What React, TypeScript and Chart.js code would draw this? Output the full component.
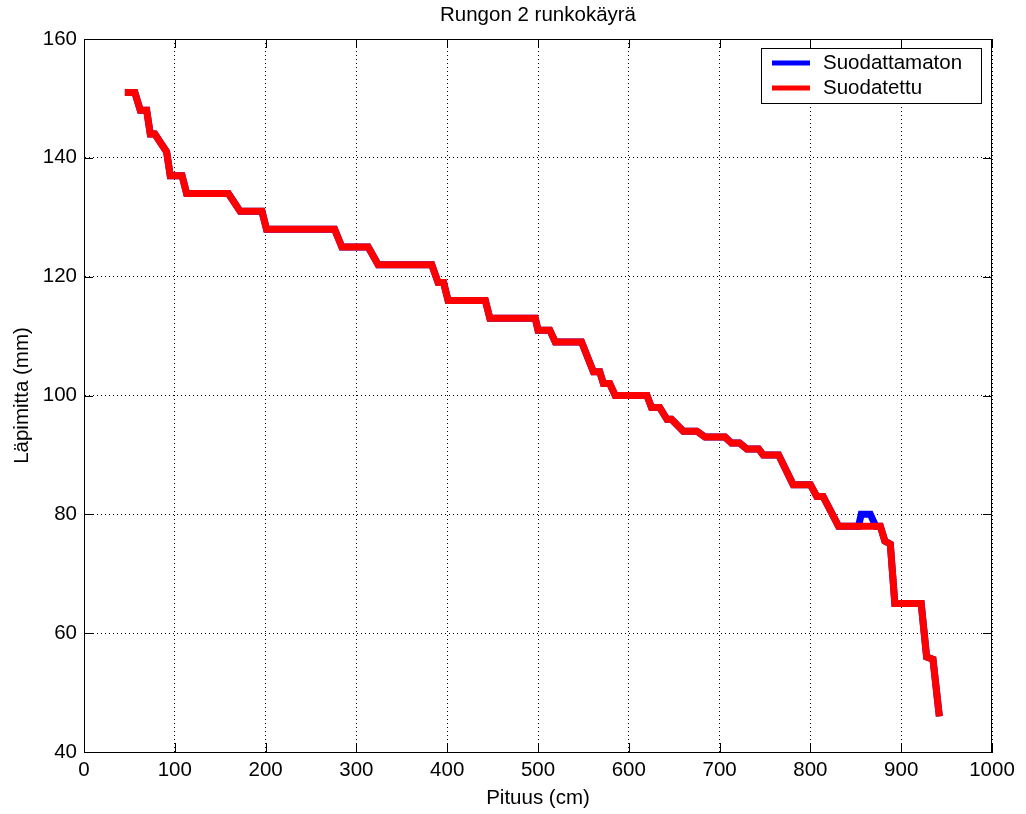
import React, { useEffect, useRef } from "react";
import { Chart, registerables } from "chart.js";

Chart.register(...registerables);

// ---- Data ----
const titleText = "Rungon 2 runkokäyrä";
const xAxisLabel = "Pituus (cm)";
const yAxisLabel = "Läpimitta (mm)";
const seriesNames = ["Suodattamaton", "Suodatettu"];
const seriesColors = ["#0000FF", "#FF0000"];

const xTicks = [0, 100, 200, 300, 400, 500, 600, 700, 800, 900, 1000];
const yTicks = [40, 60, 80, 100, 120, 140, 160];

// Filtered (Suodatettu) curve vertices: length (cm) / diameter (mm)
const filteredX = [
  45, 56, 62, 69, 73, 78, 91, 95, 108, 113, 159, 172, 196, 201, 276, 284, 313, 324, 383, 390,
  396, 401, 442, 447, 497, 500, 513, 519, 548, 561, 568, 572, 579, 585, 620, 625, 634, 642, 647,
  660, 675, 684, 706, 713, 722, 730, 743, 748, 765, 781, 800, 807, 814, 831, 877, 882, 888, 893,
  922, 928, 935, 942,
];
const filteredY = [
  151, 151, 148, 148, 144, 144, 141, 137, 137, 134, 134, 131, 131, 128, 128, 125, 125, 122, 122, 119,
  119, 116, 116, 113, 113, 111, 111, 109, 109, 104, 104, 102, 102, 100, 100, 98, 98, 96, 96,
  94, 94, 93, 93, 92, 92, 91, 91, 90, 90, 85, 85, 83, 83, 78, 78, 75.5, 75, 65,
  65, 56, 55.6, 46,
];

// Unfiltered (Suodattamaton) curve vertices
const unfilteredX = [
  45, 56, 62, 69, 73, 78, 91, 95, 108, 113, 159, 172, 196, 201, 276, 284, 313, 324, 383, 390,
  396, 401, 442, 447, 497, 500, 513, 519, 548, 561, 568, 572, 579, 585, 620, 625, 634, 642, 647,
  660, 675, 684, 706, 713, 722, 730, 743, 748, 765, 781, 800, 807, 814, 831, 853, 856, 866, 872,
  877, 882, 888, 893, 922, 928, 935, 942,
];
const unfilteredY = [
  151, 151, 148, 148, 144, 144, 141, 137, 137, 134, 134, 131, 131, 128, 128, 125, 125, 122, 122, 119,
  119, 116, 116, 113, 113, 111, 111, 109, 109, 104, 104, 102, 102, 100, 100, 98, 98, 96, 96,
  94, 94, 93, 93, 92, 92, 91, 91, 90, 90, 85, 85, 83, 83, 78, 78, 80, 80, 78,
  78, 75.5, 75, 65, 65, 56, 55.6, 46,
];

const FONT = '"Liberation Sans", Arial, Helvetica, sans-serif';
const FONT_SIZE = 20.5;

const toPoints = (xs: number[], ys: number[]) => xs.map((x, i) => ({ x, y: ys[i] }));

const decorPlugin = {
  id: "matlabDecor",
  beforeDatasetsDraw(chart: any) {
    const { ctx, chartArea: a, scales } = chart;
    ctx.save();
    ctx.strokeStyle = "#000";
    ctx.lineWidth = 1;
    // box
    ctx.strokeRect(Math.round(a.left) + 0.5, Math.round(a.top) + 0.5, Math.round(a.right - a.left) - 1, Math.round(a.bottom - a.top));
    // inward ticks
    const tl = 9;
    ctx.beginPath();
    xTicks.forEach((v) => {
      const px = Math.round(scales.x.getPixelForValue(v)) + 0.5;
      ctx.moveTo(px, a.bottom);
      ctx.lineTo(px, a.bottom - tl);
      ctx.moveTo(px, a.top);
      ctx.lineTo(px, a.top + tl);
    });
    yTicks.forEach((v) => {
      const py = Math.round(scales.y.getPixelForValue(v)) + 0.5;
      ctx.moveTo(a.left, py);
      ctx.lineTo(a.left + tl, py);
      ctx.moveTo(a.right, py);
      ctx.lineTo(a.right - tl, py);
    });
    ctx.stroke();
    ctx.restore();
  },
  afterDraw(chart: any) {
    const { ctx, chartArea: a } = chart;
    ctx.save();
    ctx.fillStyle = "#000";
    ctx.font = `${FONT_SIZE}px ${FONT}`;
    ctx.textAlign = "center";
    ctx.textBaseline = "middle";
    const cx = (a.left + a.right) / 2;
    ctx.fillText(titleText, cx, 15);
    ctx.fillText(xAxisLabel, cx, 798);
    ctx.save();
    ctx.translate(22, (a.top + a.bottom) / 2);
    ctx.rotate(-Math.PI / 2);
    ctx.fillText(yAxisLabel, 0, 0);
    ctx.restore();

    // legend
    const lx = 761, ly = 48, lw = 220, lh = 55;
    ctx.fillStyle = "#fff";
    ctx.fillRect(lx, ly, lw, lh);
    ctx.strokeStyle = "#000";
    ctx.lineWidth = 1;
    ctx.strokeRect(lx + 0.5, ly + 0.5, lw, lh);
    const rows = [63, 88];
    seriesNames.forEach((name, i) => {
      ctx.strokeStyle = seriesColors[i];
      ctx.lineWidth = 5;
      ctx.beginPath();
      ctx.moveTo(772, rows[i]);
      ctx.lineTo(810, rows[i]);
      ctx.stroke();
      ctx.fillStyle = "#000";
      ctx.textAlign = "left";
      ctx.fillText(name, 823, rows[i]);
    });
    ctx.restore();
  },
};

export default function App() {
  const canvasRef = useRef<HTMLCanvasElement | null>(null);

  useEffect(() => {
    if (!canvasRef.current) return;
    const chart = new Chart(canvasRef.current, {
      type: "scatter",
      data: {
        datasets: [
          {
            label: seriesNames[0],
            data: toPoints(unfilteredX, unfilteredY),
            showLine: true,
            borderColor: seriesColors[0],
            backgroundColor: seriesColors[0],
            borderWidth: 7,
            pointRadius: 0,
            borderJoinStyle: "miter",
            order: 2,
          },
          {
            label: seriesNames[1],
            data: toPoints(filteredX, filteredY),
            showLine: true,
            borderColor: seriesColors[1],
            backgroundColor: seriesColors[1],
            borderWidth: 7,
            pointRadius: 0,
            borderJoinStyle: "miter",
            order: 1,
          },
        ],
      },
      options: {
        animation: false,
        responsive: false,
        maintainAspectRatio: false,
        layout: { padding: { top: 39, right: 34, left: 0, bottom: 0 } },
        plugins: {
          legend: { display: false },
          title: { display: false },
          tooltip: { enabled: false },
        },
        scales: {
          x: {
            type: "linear",
            min: 0,
            max: 1000,
            afterFit: (s: any) => {
              s.height = 62;
            },
            afterBuildTicks: (s: any) => {
              s.ticks = xTicks.map((v) => ({ value: v }));
            },
            ticks: {
              color: "#000",
              font: { family: FONT, size: FONT_SIZE },
              padding: 6,
              maxRotation: 0,
              callback: (v: any) => String(v),
            },
            grid: {
              color: "#000",
              lineWidth: 1,
              drawTicks: false,
            },
            border: { display: true, color: "#000", width: 1, dash: [1, 3] } as any,
          },
          y: {
            type: "linear",
            min: 40,
            max: 160,
            afterFit: (s: any) => {
              s.width = 84;
            },
            afterBuildTicks: (s: any) => {
              s.ticks = yTicks.map((v) => ({ value: v }));
            },
            ticks: {
              color: "#000",
              font: { family: FONT, size: FONT_SIZE },
              padding: 7,
              callback: (v: any) => String(v),
            },
            grid: {
              color: "#000",
              lineWidth: 1,
              drawTicks: false,
            },
            border: { display: true, color: "#000", width: 1, dash: [1, 3] } as any,
          },
        },
      } as any,
      plugins: [decorPlugin],
    });
    return () => chart.destroy();
  }, []);

  return (
    <canvas
      ref={canvasRef}
      width={1026}
      height={814}
      style={{ position: "absolute", left: 0, top: 0, width: 1026, height: 814, background: "#fff" }}
    />
  );
}
